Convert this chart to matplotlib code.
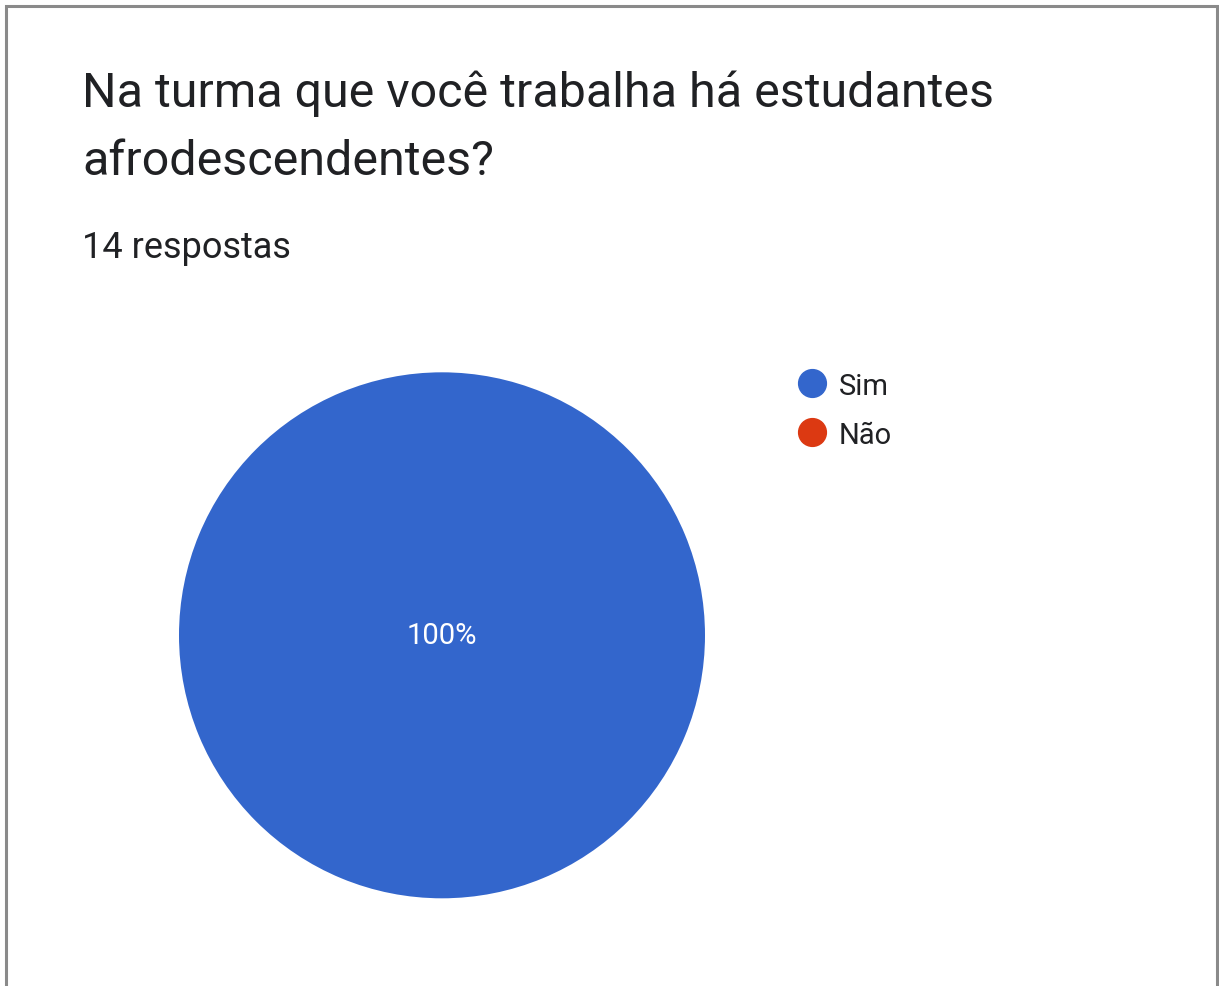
import matplotlib.pyplot as plt
from matplotlib.lines import Line2D
from matplotlib.patches import Rectangle

plt.rcParams['font.family'] = ['Roboto', 'DejaVu Sans']

title_lines = ['Na turma que você trabalha há estudantes', 'afrodescendentes?']
subtitle = '14 respostas'
labels = ['Sim', 'Não']
counts = [14, 0]
colors = ['#3366CC', '#DC3912']

W, H = 1219, 987
fig = plt.figure(figsize=(W / 100, H / 100), dpi=100)
fig.patch.set_facecolor('white')

# card outline (bottom edge runs off the page)
fig.patches.append(Rectangle((6 / W, -0.05), (1217 - 6) / W, 1.05 - 7 / H,
                             transform=fig.transFigure, fill=False,
                             edgecolor='#8a8a8a', linewidth=2.2))

for line, base in zip(title_lines, [107, 175]):
    fig.text(82 / W, 1 - base / H, line, ha='left', va='baseline',
             fontsize=34.8, color='#202124')
fig.text(82 / W, 1 - 258 / H, subtitle, ha='left', va='baseline',
         fontsize=26, color='#202124')

cx, cy, r = 442, 635, 263
ax = fig.add_axes([(cx - r) / W, (H - cy - r) / H, 2 * r / W, 2 * r / H])


def pct_label(p):
    return f'{p:.0f}%' if p >= 1 else ''


ax.pie(counts, colors=colors, startangle=90, counterclock=False,
       autopct=pct_label, pctdistance=0.0,
       wedgeprops={'linewidth': 0},
       textprops={'color': 'white', 'fontsize': 21})
ax.set_xlim(-1, 1)
ax.set_ylim(-0.995, 1.005)
ax.set_aspect('equal')
ax.axis('off')

handles = [Line2D([], [], marker='o', linestyle='', markersize=20,
                  markerfacecolor=c, markeredgecolor=c) for c in colors]
fig.legend(handles, labels, loc='upper left',
           bbox_to_anchor=(783 / W, 1 - 358 / H), frameon=False,
           fontsize=21, handletextpad=0.4, labelspacing=0.72,
           handlelength=1.0, borderpad=0, labelcolor='#202124')

fig.savefig('out.png', dpi=100, facecolor='white')
